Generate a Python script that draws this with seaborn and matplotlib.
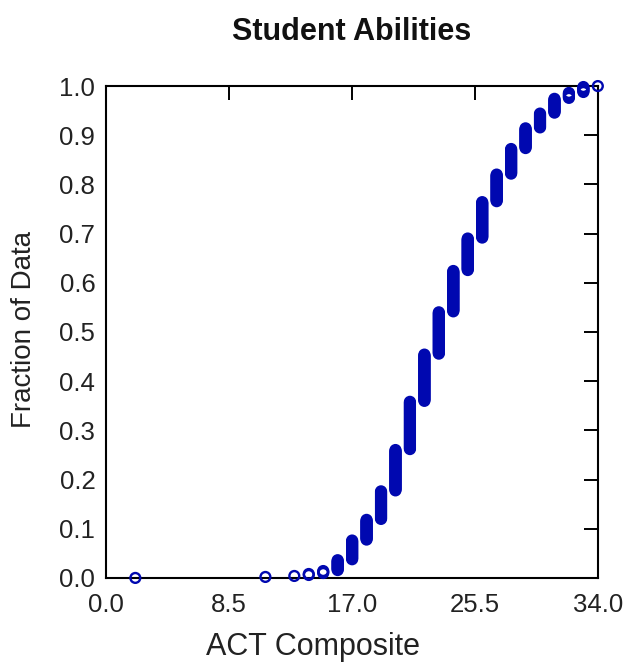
import numpy as np
import pandas as pd
import matplotlib
matplotlib.use("Agg")
import matplotlib.pyplot as plt
import seaborn as sns

# ACT composite scores and how many students earned each one
scores = [2, 11, 13, 14, 15, 16, 17, 18, 19, 20, 21, 22, 23, 24, 25, 26, 27, 28, 29, 30, 31, 32, 33, 34]
counts = [1, 1, 1, 2, 3, 11, 20, 21, 29, 42, 49, 48, 43, 42, 33, 37, 28, 26, 21, 15, 15, 6, 6, 1]

x_ticks = [0.0, 8.5, 17.0, 25.5, 34.0]
x_tick_labels = ["0.0", "8.5", "17.0", "25.5", "34.0"]
y_ticks = [0.0, 0.1, 0.2, 0.3, 0.4, 0.5, 0.6, 0.7, 0.8, 0.9, 1.0]
y_tick_labels = ["0.0", "0.1", "0.2", "0.3", "0.4", "0.5", "0.6", "0.7", "0.8", "0.9", "1.0"]

# Empirical distribution: each sorted observation plotted at its rank fraction
values = np.sort(np.repeat(scores, counts))
n = len(values)
df = pd.DataFrame({"ACT Composite": values,
                   "Fraction of Data": np.arange(n) / (n - 1)})

sns.set_theme(style="white")
plt.rcParams["font.family"] = ["Liberation Sans", "DejaVu Sans"]

fig = plt.figure(figsize=(6.26, 6.62), dpi=100)
ax = fig.add_axes([0.170, 0.127, 0.785, 0.743])

sns.scatterplot(data=df, x="ACT Composite", y="Fraction of Data", ax=ax,
                marker="o", s=50, facecolor="none", edgecolor="#0008B0",
                linewidth=1.7, clip_on=False, zorder=3, legend=False)

ax.set_xlim(0, 34)
ax.set_ylim(0, 1)
ax.set_xticks(x_ticks)
ax.set_xticklabels(x_tick_labels)
ax.set_yticks(y_ticks)
ax.set_yticklabels(y_tick_labels)

for side in ax.spines.values():
    side.set_visible(True)
    side.set_color("black")
    side.set_linewidth(1.5)

ax.tick_params(axis="both", which="major", direction="in", length=10, width=1.4,
               color="black", top=True, right=True, labelsize=18.5,
               labelcolor="#222222")
ax.tick_params(axis="x", pad=11)
ax.tick_params(axis="y", pad=8)

ax.set_title("Student Abilities", fontsize=22, fontweight="bold",
             color="#111111", pad=33)
ax.set_xlabel("ACT Composite", fontsize=22, color="#222222")
ax.set_ylabel("Fraction of Data", fontsize=20, color="#222222")
ax.xaxis.label.set_va("baseline")
ax.xaxis.set_label_coords(0.42, -0.1565)
ax.yaxis.label.set_va("center")
ax.yaxis.set_label_coords(-0.168, 0.505)

fig.savefig("out.png", dpi=100, facecolor="white")
